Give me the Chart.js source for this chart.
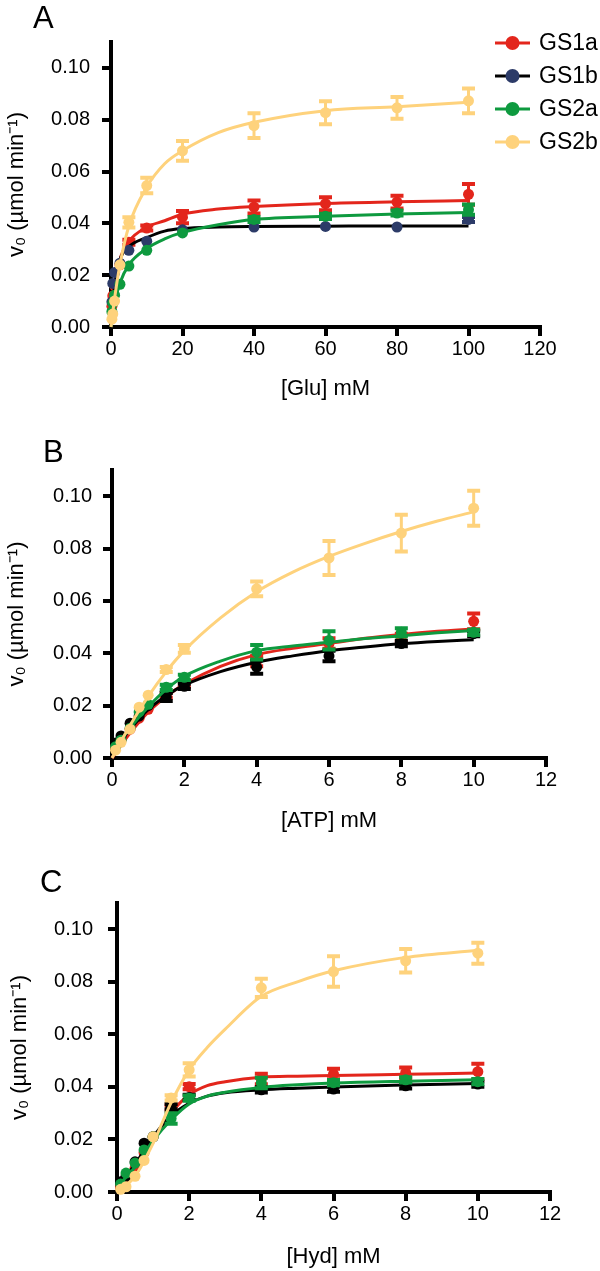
<!DOCTYPE html>
<html>
<head>
<meta charset="utf-8">
<script src="https://cdn.jsdelivr.net/npm/chart.js@4.4.1/dist/chart.umd.min.js"></script>
<style>
  html, body { margin: 0; padding: 0; background: #fff; }
  .panel { position: absolute; left: 0; width: 600px; }
</style>
</head>
<body>
<div class="panel" style="top:0"><canvas id="chartA" width="600" height="420"></canvas></div>
<div class="panel" style="top:420px"><canvas id="chartB" width="600" height="420"></canvas></div>
<div class="panel" style="top:840px"><canvas id="chartC" width="600" height="431"></canvas></div>
<script>
const FONT = '"Liberation Sans", Arial, Helvetica, sans-serif';

const seriesNames = ["GS1a", "GS1b", "GS2a", "GS2b"];
const lineColors = ["#e3261c", "#000000", "#0e9a3f", "#fed27c"];
const markerColorsA = ["#e3261c", "#2c3b68", "#0e9a3f", "#fed27c"];
const markerColorsBC = ["#e3261c", "#000000", "#0e9a3f", "#fed27c"];

const yTicks = [0, 0.02, 0.04, 0.06, 0.08, 0.10];

// ---- panel A : [Glu] ----
const gluX = [0.25, 0.5, 1, 2.5, 5, 10, 20, 40, 60, 80, 100];
const gluGS1a = [0.008, 0.012, 0.016, 0.024, 0.0327, 0.0382, 0.0424, 0.0463, 0.0476, 0.0482, 0.0512];
const gluGS1b = [0.0097, 0.0168, 0.021, 0.0246, 0.0296, 0.0331, 0.0375, 0.0386, 0.0388, 0.0386, 0.0415];
const gluGS2a = [0.0059, 0.0092, 0.0123, 0.0165, 0.0235, 0.0296, 0.0363, 0.0415, 0.0427, 0.044, 0.0453];
const gluGS2b = [0.003, 0.005, 0.01, 0.024, 0.0404, 0.0546, 0.068, 0.0777, 0.0827, 0.0846, 0.0873];
const gluErrGS1a = [0, 0, 0, 0, 0.001, 0.001, 0.0024, 0.0025, 0.0025, 0.0025, 0.004];
const gluErrGS1b = [0, 0, 0, 0, 0, 0, 0, 0, 0, 0, 0.001];
const gluErrGS2a = [0, 0, 0, 0, 0, 0, 0, 0.001, 0.001, 0.001, 0.002];
const gluErrGS2b = [0, 0, 0, 0, 0.002, 0.003, 0.0038, 0.0048, 0.0044, 0.0042, 0.0048];
const gluFitX = [0, 1, 2.5, 5, 10, 15, 20, 30, 40, 60, 80, 100];
const gluFitGS1a = [0, 0.015, 0.026, 0.033, 0.0385, 0.041, 0.0435, 0.0455, 0.0465, 0.0477, 0.0483, 0.0488];
const gluFitGS1b = [0, 0.016, 0.026, 0.031, 0.0345, 0.037, 0.038, 0.0386, 0.0388, 0.0389, 0.039, 0.039];
const gluFitGS2a = [0, 0.009, 0.017, 0.024, 0.0303, 0.034, 0.0365, 0.0395, 0.0415, 0.0427, 0.0436, 0.0442];
const gluFitGS2b = [0, 0.011, 0.024, 0.039, 0.054, 0.063, 0.068, 0.075, 0.079, 0.0835, 0.085, 0.0867];

// ---- panel B : [ATP] ----
const atpX = [0.1, 0.25, 0.5, 0.75, 1, 1.5, 2, 4, 6, 8, 10];
const atpGS1a = [0.004, 0.007, 0.011, 0.0152, 0.0186, 0.024, 0.028, 0.037, 0.0437, 0.046, 0.0522];
const atpGS1b = [0.0057, 0.0084, 0.0133, 0.016, 0.02, 0.0233, 0.0274, 0.0347, 0.039, 0.0437, 0.0475];
const atpGS2a = [0.0043, 0.0068, 0.0114, 0.0176, 0.0205, 0.027, 0.0308, 0.0404, 0.0449, 0.048, 0.048];
const atpGS2b = [0.003, 0.006, 0.011, 0.0194, 0.024, 0.0338, 0.0417, 0.0646, 0.0764, 0.0859, 0.0954];
const atpErrGS1a = [0, 0, 0, 0, 0, 0.001, 0.001, 0.002, 0.002, 0.0015, 0.003];
const atpErrGS1b = [0, 0, 0, 0, 0, 0.0015, 0.001, 0.0025, 0.002, 0.001, 0.001];
const atpErrGS2a = [0, 0, 0, 0, 0, 0.001, 0.001, 0.0028, 0.0035, 0.0016, 0.001];
const atpErrGS2b = [0, 0, 0, 0, 0, 0.001, 0.0015, 0.0028, 0.0065, 0.007, 0.0067];
const atpFitX = [0, 0.5, 1, 1.5, 2, 3, 4, 5, 6, 7, 8, 9, 10];
const atpFitGS1a = [0, 0.0095, 0.0175, 0.0235, 0.0282, 0.035, 0.0395, 0.0419, 0.0437, 0.0457, 0.0472, 0.0484, 0.0493];
const atpFitGS1b = [0.002, 0.011, 0.0185, 0.0238, 0.0278, 0.033, 0.0366, 0.039, 0.041, 0.0424, 0.0436, 0.0445, 0.0452];
const atpFitGS2a = [0.002, 0.0115, 0.0195, 0.0262, 0.0312, 0.037, 0.041, 0.0428, 0.0442, 0.0456, 0.0467, 0.0478, 0.0487];
const atpFitGS2b = [0, 0.0125, 0.0235, 0.033, 0.041, 0.0535, 0.0635, 0.071, 0.077, 0.082, 0.0865, 0.0905, 0.094];

// ---- panel C : [Hyd] ----
const hydX = [0.1, 0.25, 0.5, 0.75, 1, 1.5, 2, 4, 6, 8, 10];
const hydGS1a = [0.002, 0.005, 0.009, 0.015, 0.021, 0.032, 0.0401, 0.043, 0.0449, 0.0454, 0.0458];
const hydGS1b = [0.0039, 0.006, 0.0115, 0.0186, 0.021, 0.0325, 0.036, 0.0389, 0.0392, 0.0404, 0.0411];
const hydGS2a = [0.003, 0.0072, 0.011, 0.016, 0.021, 0.028, 0.0357, 0.0415, 0.0416, 0.0427, 0.042];
const hydGS2b = [0.001, 0.002, 0.006, 0.012, 0.021, 0.0358, 0.0465, 0.0777, 0.0839, 0.088, 0.0909];
const hydErrGS1a = [0, 0, 0, 0, 0, 0.001, 0.001, 0.002, 0.002, 0.002, 0.003];
const hydErrGS1b = [0, 0, 0, 0, 0, 0.001, 0.001, 0.001, 0.001, 0.001, 0.001];
const hydErrGS2a = [0, 0, 0, 0, 0, 0.002, 0.001, 0.002, 0.001, 0.001, 0.001];
const hydErrGS2b = [0, 0, 0, 0, 0, 0.001, 0.0025, 0.0035, 0.0058, 0.0045, 0.004];
const hydFitX = [0, 0.5, 1, 1.5, 2, 2.5, 3, 4, 5, 6, 8, 10];
const hydFitGS1a = [0, 0.008, 0.019, 0.03, 0.037, 0.0405, 0.042, 0.0437, 0.0441, 0.0443, 0.0448, 0.0453];
const hydFitGS1b = [0.002, 0.0105, 0.021, 0.029, 0.0338, 0.0365, 0.0378, 0.0389, 0.0395, 0.04, 0.0407, 0.0413];
const hydFitGS2a = [0.002, 0.0095, 0.0195, 0.0275, 0.0335, 0.0365, 0.038, 0.0398, 0.0408, 0.0415, 0.0422, 0.0427];
const hydFitGS2b = [0, 0.006, 0.0185, 0.034, 0.0465, 0.055, 0.062, 0.0745, 0.08, 0.0842, 0.0893, 0.092];

const pts = (xs, ys) => xs.map((x, i) => ({ x: x, y: ys[i] }));

// vertical error bars, drawn right after their own dataset
const errorBars = {
  id: "errorBars",
  afterDatasetDraw(chart, args) {
    const ds = chart.data.datasets[args.index];
    if (!ds.errors) return;
    const { ctx, scales } = chart;
    ctx.save();
    ctx.strokeStyle = ds.backgroundColor;
    ds.data.forEach((p, i) => {
      const e = ds.errors[i];
      if (!e) return;
      const px = scales.x.getPixelForValue(p.x);
      const top = scales.y.getPixelForValue(p.y + e);
      const bot = scales.y.getPixelForValue(p.y - e);
      ctx.lineWidth = 3;
      ctx.beginPath();
      ctx.moveTo(px, top);
      ctx.lineTo(px, bot);
      ctx.stroke();
      ctx.lineWidth = 4;
      ctx.beginPath();
      ctx.moveTo(px - 6.5, top);
      ctx.lineTo(px + 6.5, top);
      ctx.moveTo(px - 6.5, bot);
      ctx.lineTo(px + 6.5, bot);
      ctx.stroke();
    });
    ctx.restore();
  },
};

const sideLegend = {
  id: "sideLegend",
  afterDraw(chart, args, opts) {
    if (!opts.show) return;
    const ctx = chart.ctx;
    ctx.save();
    ctx.font = "23px " + FONT;
    ctx.textBaseline = "middle";
    seriesNames.forEach((name, i) => {
      const y = opts.y + i * opts.gap;
      ctx.strokeStyle = lineColors[i];
      ctx.lineWidth = 3;
      ctx.beginPath();
      ctx.moveTo(opts.x, y);
      ctx.lineTo(opts.x + 35, y);
      ctx.stroke();
      ctx.fillStyle = markerColorsA[i];
      ctx.beginPath();
      ctx.arc(opts.x + 17.5, y, 7, 0, Math.PI * 2);
      ctx.fill();
      ctx.fillStyle = "#000";
      ctx.fillText(name, opts.x + 44, y + 1);
    });
    ctx.restore();
  },
};

const panelLetter = {
  id: "panelLetter",
  afterDraw(chart, args, opts) {
    const ctx = chart.ctx;
    ctx.save();
    ctx.font = "31px " + FONT;
    ctx.fillStyle = "#000";
    ctx.textBaseline = "alphabetic";
    ctx.fillText(opts.text, opts.x, opts.y);
    ctx.restore();
  },
};

function makeChart(id, p) {
  const datasets = [];
  for (let s = 0; s < 4; s++) {
    datasets.push({
      label: seriesNames[s] + " fit",
      data: pts(p.fitX, p.fitY[s]),
      showLine: true,
      borderColor: lineColors[s],
      borderWidth: 3,
      pointRadius: 0,
      cubicInterpolationMode: "monotone",
      clip: false,
    });
    datasets.push({
      label: seriesNames[s],
      data: pts(p.x, p.y[s]),
      errors: p.err[s],
      showLine: false,
      backgroundColor: p.markers[s],
      borderWidth: 0,
      pointRadius: 5.5,
      clip: false,
    });
  }
  datasets.forEach((d, i) => { d.order = -i; });

  return new Chart(document.getElementById(id), {
    type: "scatter",
    data: { datasets: datasets },
    plugins: [errorBars, sideLegend, panelLetter],
    options: {
      responsive: false,
      animation: false,
      layout: { padding: p.pad },
      scales: {
        x: {
          type: "linear",
          min: 0,
          max: p.xMax,
          ticks: { stepSize: p.xStep, padding: 1, color: "#000", font: { family: FONT, size: 20 } },
          grid: { drawOnChartArea: false, tickLength: 9, lineWidth: 4, color: "#000" },
          border: { display: true, width: 4, color: "#000" },
          title: {
            display: true,
            text: p.xTitle,
            color: "#000",
            font: { family: FONT, size: 22 },
            padding: { top: 4, bottom: 0 },
          },
          afterFit: (sc) => { sc.height = p.xHeight; },
        },
        y: {
          type: "linear",
          min: 0,
          max: 0.11,
          afterBuildTicks: (sc) => { sc.ticks = yTicks.map((v) => ({ value: v })); },
          ticks: {
            padding: p.yTickPad,
            color: "#000",
            font: { family: FONT, size: 20 },
            callback: (v) => v.toFixed(2),
          },
          grid: { drawOnChartArea: false, tickLength: 9, lineWidth: 4, color: "#000" },
          border: { display: true, width: 4, color: "#000" },
          title: {
            display: true,
            text: "v₀ (µmol min⁻¹)",
            color: "#000",
            font: { family: FONT, size: 22 },
            padding: { top: 4, bottom: 4 },
          },
          afterFit: (sc) => { sc.width = p.yWidth; },
        },
      },
      plugins: {
        legend: { display: false },
        tooltip: { enabled: false },
        sideLegend: { show: p.legend, x: 495, y: 43, gap: 33 },
        panelLetter: p.letter,
      },
    },
  });
}

makeChart("chartA", {
  x: gluX,
  y: [gluGS1a, gluGS1b, gluGS2a, gluGS2b],
  err: [gluErrGS1a, gluErrGS1b, gluErrGS2a, gluErrGS2b],
  fitX: gluFitX,
  fitY: [gluFitGS1a, gluFitGS1b, gluFitGS2a, gluFitGS2b],
  markers: markerColorsA,
  xMax: 120, xStep: 20, xTitle: "[Glu] mM",
  pad: { top: 42, right: 60, bottom: 18, left: 0 },
  yWidth: 111, xHeight: 75, yTickPad: 12,
  legend: true,
  letter: { text: "A", x: 33, y: 28 },
});

makeChart("chartB", {
  x: atpX,
  y: [atpGS1a, atpGS1b, atpGS2a, atpGS2b],
  err: [atpErrGS1a, atpErrGS1b, atpErrGS2a, atpErrGS2b],
  fitX: atpFitX,
  fitY: [atpFitGS1a, atpFitGS1b, atpFitGS2a, atpFitGS2b],
  markers: markerColorsBC,
  xMax: 12, xStep: 2, xTitle: "[ATP] mM",
  pad: { top: 50, right: 54, bottom: 6, left: 0 },
  yWidth: 112, xHeight: 76, yTickPad: 11,
  legend: false,
  letter: { text: "B", x: 43, y: 42 },
});

makeChart("chartC", {
  x: hydX,
  y: [hydGS1a, hydGS1b, hydGS2a, hydGS2b],
  err: [hydErrGS1a, hydErrGS1b, hydErrGS2a, hydErrGS2b],
  fitX: hydFitX,
  fitY: [hydFitGS1a, hydFitGS1b, hydFitGS2a, hydFitGS2b],
  markers: markerColorsBC,
  xMax: 12, xStep: 2, xTitle: "[Hyd] mM",
  pad: { top: 63, right: 50, bottom: 1, left: 3 },
  yWidth: 114, xHeight: 78, yTickPad: 15,
  legend: false,
  letter: { text: "C", x: 40, y: 52 },
});
</script>
</body>
</html>
